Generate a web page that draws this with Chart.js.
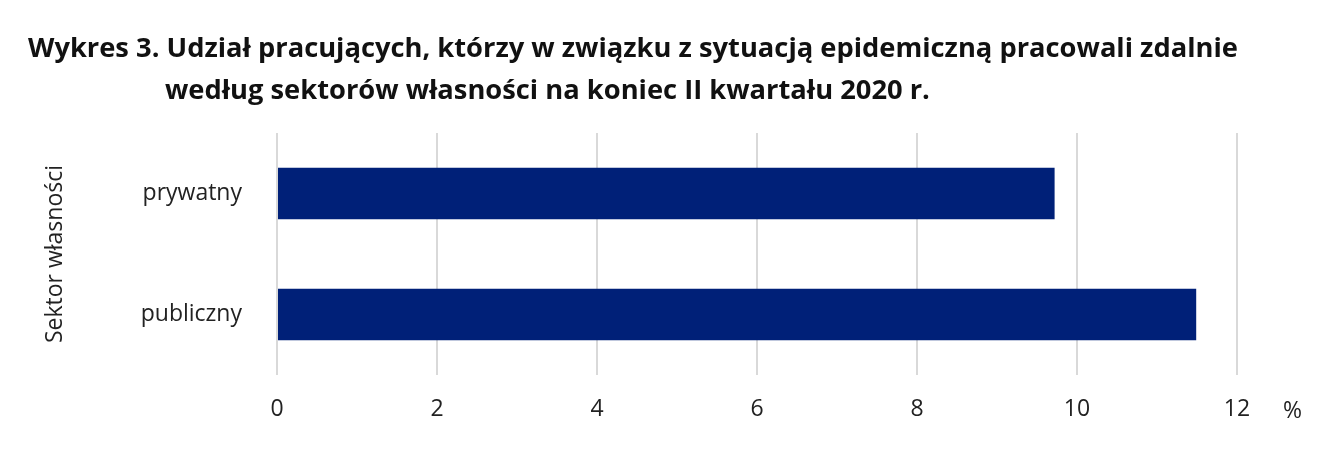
<!DOCTYPE html>
<html>
<head>
<meta charset="utf-8">
<script src="https://cdn.jsdelivr.net/npm/chart.js@4/dist/chart.umd.min.js"></script>
<style>
  body { margin: 0; background: #fff; font-family: 'Open Sans', sans-serif; }
  #wrap { position: relative; width: 1343px; height: 470px; }
  #title { position: absolute; left: 28px; top: 26px; font-weight: bold; font-size: 27.3px; line-height: 42px; color: #111; white-space: nowrap; }
  #title .l2 { padding-left: 137px; }
  #pct { position: absolute; left: 1283px; top: 393px; font-size: 23px; color: #222; }
  canvas { position: absolute; left: 0; top: 0; }
</style>
</head>
<body>
<div id="wrap">
  <canvas id="c" width="1343" height="470"></canvas>
  <div id="title">Wykres 3. Udział pracujących, którzy w związku z sytuacją epidemiczną pracowali zdalnie<br><span class="l2">według sektorów własności na koniec II kwartału 2020 r.</span></div>
  <div id="pct">%</div>
</div>
<script>
const categories = ['prywatny', 'publiczny'];
const values = [9.72, 11.49];
const xTicks = [0, 2, 4, 6, 8, 10, 12];

new Chart(document.getElementById('c'), {
  type: 'bar',
  data: {
    labels: categories,
    datasets: [{
      data: values,
      backgroundColor: '#002078',
      barPercentage: 0.425,
      categoryPercentage: 1
    }]
  },
  options: {
    indexAxis: 'y',
    responsive: false,
    animation: false,
    layout: { padding: { left: 30, right: 106, top: 133, bottom: 45 } },
    plugins: { legend: { display: false }, tooltip: { enabled: false } },
    scales: {
      x: {
        min: 0, max: 12,
        afterBuildTicks: s => { s.ticks = xTicks.map(v => ({ value: v })); },
        afterFit: s => { s.height = 50; },
        grid: { color: '#d9d9d9', lineWidth: 2, drawTicks: false },
        border: { display: false },
        ticks: { color: '#222', padding: 21, font: { family: 'Open Sans', size: 23 } }
      },
      y: {
        afterFit: s => { s.width = 247; },
        grid: { display: false },
        border: { display: false },
        ticks: { color: '#222', padding: 27, font: { family: 'Open Sans', size: 23 } },
        title: { display: true, text: 'Sektor własności', color: '#222', padding: { top: 12, bottom: 0 }, font: { family: 'Open Sans', size: 23 } }
      }
    }
  }
});
</script>
</body>
</html>
